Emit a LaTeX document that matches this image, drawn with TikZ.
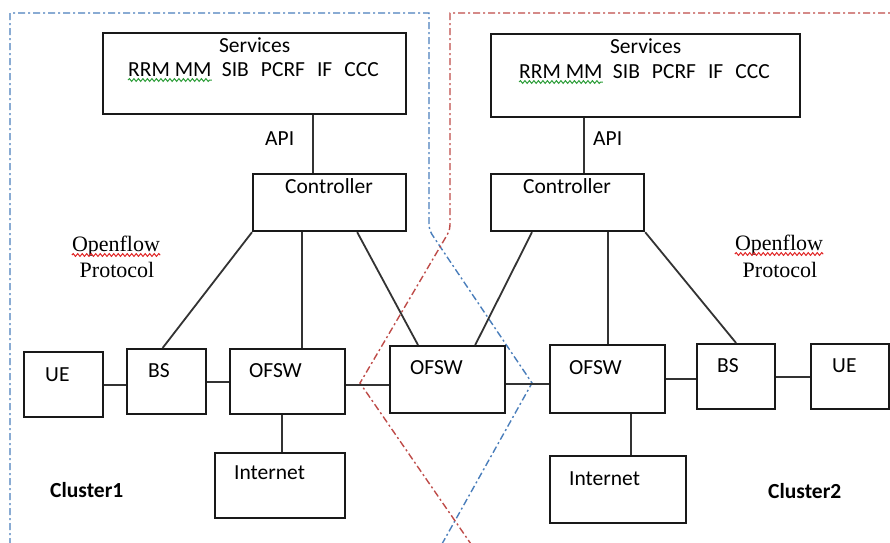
\documentclass[tikz,border=0pt]{standalone}
\usepackage{fontspec}
\setmainfont{Carlito}
\newfontfamily\protofont{Liberation Serif}
\usepackage{tikz}
\usetikzlibrary{positioning, decorations.pathmorphing}

\definecolor{bluebound}{HTML}{4A7EBB}
\definecolor{redbound}{HTML}{BE4B48}
\definecolor{spellred}{HTML}{E02424}
\definecolor{spellgreen}{HTML}{2E9E3A}

\begin{document}
\begin{tikzpicture}[x=1pt, y=-1pt, inner sep=0pt, font=\fontsize{21.5}{26}\selectfont,
  unit/.style={draw=black!90, line width=2.2pt, anchor=north west},
  tag/.style={anchor=base west, xshift=20pt, yshift=-29pt},
  ctag/.style={anchor=base west, xshift=33pt, yshift=-20pt},
  link/.style={draw=black!80, line width=1.8pt},
  proto/.style={anchor=base, font=\protofont\fontsize{22}{26}\selectfont},
  bound/.style={draw=#1, line width=1.4pt, dash pattern=on 7pt off 3pt on 2pt off 3pt},
  wavy/.style={draw=#1, line width=1pt, decorate, decoration={snake, amplitude=1.4pt, segment length=4.5pt}}]
\useasboundingbox (0,0) rectangle (890,542);
\clip (0,0) rectangle (890,542);
% Cluster boundaries
\draw[bound=bluebound] (10,560) -- (10,13) -- (429,13) -- (429,220) .. controls (429,230) .. (435,239) -- (532,383) -- (433,560);
\draw[bound=redbound] (900,13) -- (450,13) -- (450,220) .. controls (450,230) .. (444.7,239) -- (360,383) -- (482,560);
% Cluster1
\node[unit, minimum width=303pt, minimum height=81pt] (svcL) at (102,32) {};
\node[anchor=base] (ttlL) at ([yshift=-20pt]svcL.north) {Services};
\node[anchor=base west] (rrmL) at (128,76) {RRM MM};
\node[anchor=base west] (sibL) at ([xshift=10pt]rrmL.base east) {SIB\hspace{12pt}PCRF\hspace{12pt}IF\hspace{12pt}CCC};
\node[unit, minimum width=153pt, minimum height=57pt, label={[ctag]north west:Controller}] (ctlL) at (252,173) {};
\node[unit, minimum width=79pt, minimum height=65pt, label={[tag, xshift=2pt, yshift=-1pt]north west:UE}] (ueL) at (23,351) {};
\node[unit, minimum width=79pt, minimum height=65pt, label={[tag, xshift=2pt]north west:BS}] (bsL) at (126,348) {};
\node[unit, minimum width=115pt, minimum height=65pt, label={[tag]north west:OFSW}] (swL) at (229,348) {};
\node[unit, minimum width=130pt, minimum height=65pt, label={[tag, yshift=2pt]north west:Internet}] (netL) at (214,452) {};
\node[anchor=base west] (apiL) at (265,145) {API};
\node[proto] (ofL) at (116,251) {Openflow};
\node[proto] (prL) at (117,277) {Protocol};
\node[anchor=base west, font=\fontsize{21.5}{26}\selectfont\bfseries] (cl1) at (50,497) {Cluster1};
% Shared switch
\node[unit, minimum width=115pt, minimum height=67pt, label={[tag, xshift=1pt]north west:OFSW}] (swM) at (389,345) {};
% Cluster2
\node[unit, minimum width=309pt, minimum height=83pt] (svcR) at (490,33) {};
\node[anchor=base] (ttlR) at ([yshift=-20pt]svcR.north) {Services};
\node[anchor=base west] (rrmR) at (519,78) {RRM MM};
\node[anchor=base west] (sibR) at ([xshift=10pt]rrmR.base east) {SIB\hspace{12pt}PCRF\hspace{12pt}IF\hspace{12pt}CCC};
\node[unit, minimum width=153pt, minimum height=57pt, label={[ctag]north west:Controller}] (ctlR) at (490,173) {};
\node[unit, minimum width=115pt, minimum height=68pt, label={[tag, yshift=-1pt]north west:OFSW}] (swR) at (549,344) {};
\node[unit, minimum width=78pt, minimum height=65pt, label={[tag, xshift=1pt]north west:BS}] (bsR) at (696,343) {};
\node[unit, minimum width=78pt, minimum height=65pt, label={[tag, xshift=2pt]north west:UE}] (ueR) at (810,343) {};
\node[unit, minimum width=136pt, minimum height=67pt, label={[tag, yshift=-1pt]north west:Internet}] (netR) at (549,455) {};
\node[anchor=base west] (apiR) at (593,145) {API};
\node[proto] (ofR) at (779,250) {Openflow};
\node[proto] (prR) at (780,277) {Protocol};
\node[anchor=base west, font=\fontsize{21.5}{26}\selectfont\bfseries] (cl2) at (768,498) {Cluster2};
% Spelling marks
\draw[wavy=spellgreen] ([yshift=-4pt]rrmL.base west) -- ([yshift=-4pt]rrmL.base east);
\draw[wavy=spellgreen] ([yshift=-4pt]rrmR.base west) -- ([yshift=-4pt]rrmR.base east);
\draw[wavy=spellred] ([yshift=-4pt]ofL.base west) -- ([yshift=-4pt]ofL.base east);
\draw[wavy=spellred] ([yshift=-4pt]ofR.base west) -- ([yshift=-4pt]ofR.base east);
% Links
\draw[link] ([xshift=61pt]ctlL.north west) coordinate (aL) -- (aL |- svcL.south);
\draw[link] ([xshift=94pt]ctlR.north west) coordinate (aR) -- (aR |- svcR.south);
\draw[link] (ctlL.south west) -- ([xshift=-4pt]bsL.north);
\draw[link] ([xshift=14pt]swL.north) coordinate (cL) -- (cL |- ctlL.south);
\draw[link] ([xshift=-50pt]ctlL.south east) -- ([xshift=29pt]swM.north west);
\draw[link] ([xshift=42pt]ctlR.south west) -- ([xshift=-31pt]swM.north east);
\draw[link] (swR.north) -- (swR.north |- ctlR.south);
\draw[link] (ctlR.south east) -- (bsR.north);
\draw[link] (ueL.east) -- (ueL.east -| bsL.west);
\draw[link] (bsL.east) -- (bsL.east -| swL.west);
\draw[link] ([yshift=-3pt]swL.east) coordinate (dL) -- (dL -| swM.west);
\draw[link] ([yshift=-4pt]swM.east) coordinate (dR) -- (dR -| swR.west);
\draw[link] (swR.east) -- (swR.east -| bsR.west);
\draw[link] (bsR.east) -- (bsR.east -| ueR.west);
\draw[link] ([xshift=2pt]netL.north) coordinate (eL) -- (eL |- swL.south);
\draw[link] ([xshift=13pt]netR.north) coordinate (eR) -- (eR |- swR.south);
\end{tikzpicture}
\end{document}
